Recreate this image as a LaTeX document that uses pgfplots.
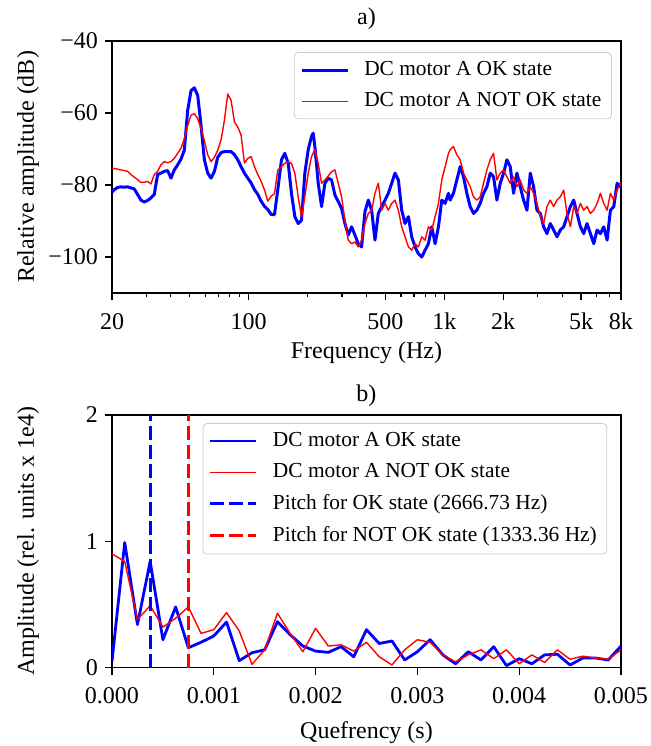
\documentclass[border=0pt]{standalone}
\usepackage{fontspec}
\setmainfont{Liberation Serif}
\usepackage{pgfplots}
\pgfplotsset{compat=1.18}

\definecolor{okblue}{RGB}{0,0,255}
\definecolor{nokred}{RGB}{255,0,0}

\pgfplotsset{
  paper/.style={
    scale only axis,
    width=254.5pt,
    tick align=outside,
    tick pos=left,
    major tick length=3.5pt,
    minor tick length=2pt,
    every tick/.style={black, line width=0.6pt},
    axis line style={black, line width=0.8pt},
    tick label style={font=\fontsize{12}{14}\selectfont},
    xticklabel style={yshift=-3pt},
    label style={font=\fontsize{12}{14}\selectfont},
    title style={font=\fontsize{12}{14}\selectfont, at={(0.5,1)}, anchor=south, yshift=-4pt},
    xlabel style={at={(axis description cs:0.5,0)}, anchor=center, yshift=-30pt},
    ylabel style={at={(axis description cs:0,0.5)}, anchor=center, yshift=42pt},
    legend cell align=left,
    legend style={
      font=\fontsize{10.7}{12.8}\selectfont,
      draw=black!20, rounded corners=2pt, fill=white,
      inner xsep=3pt, inner ysep=2.5pt, row sep=3pt,
      /tikz/every odd column/.append style={column sep=5.5pt},
    },
    legend image code/.code={\draw[##1] (0pt,0pt) -- (23pt,0pt);},
  },
}

\begin{document}
\begin{tikzpicture}
\path[use as bounding box] (0pt,0pt) rectangle (325.5pt,-373pt);

% a) spectrum
\begin{axis}[
  paper,
  at={(56pt,-146.5pt)}, anchor=south west,
  height=126pt,
  xmode=log, xmin=20, xmax=8000,
  ymin=-110, ymax=-40,
  xtick={20,100,500,1000,2000,5000,8000},
  xticklabels={20,100,500,1k,2k,5k,8k},
  minor xtick={30,40,50,60,70,80,90,200,300,400,600,700,800,900,3000,4000,6000,7000},
  ytick={-100,-80,-60,-40},
  yticklabels={−100,−80,−60,−40},
  title={a)},
  xlabel={Frequency (Hz)},
  ylabel={Relative amplitude (dB)},
  legend style={at={(0.982,0.956)}, anchor=north east},
]
\addplot[okblue, line width=1.5pt, line join=round] coordinates {
(20,-82.0) (20.52,-81.3) (21.34,-80.7) (22.2,-80.5) (23.09,-80.6) (24.02,-80.5)
(24.98,-80.8) (25.98,-81.1) (27.02,-82.6) (28.1,-84.2) (29.23,-84.7) (30.4,-84.3)
(31.62,-83.6) (32.89,-82.6) (34.21,-77.1) (35.58,-76.7) (37.01,-76.2) (38.49,-76.0)
(40.04,-78.1) (41.64,-75.8) (43.31,-74.4) (45.05,-72.8) (46.86,-70.3) (48.74,-59.3)
(50.69,-53.8) (52.72,-53.0) (54.84,-55.1) (57.04,-63.4) (59.33,-73.0) (61.71,-76.7)
(64.18,-78.1) (66.76,-76.2) (69.44,-72.3) (72.22,-71.0) (75.12,-70.7) (78.13,-70.7)
(81.27,-70.7) (84.53,-71.6) (87.92,-73.0) (91.4,-74.9) (95.07,-76.7) (98.88,-78.1)
(102.85,-79.4) (106.97,-81.3) (111.26,-82.6) (115.72,-84.5) (120.36,-85.9) (125.19,-86.8)
(130.21,-88.2) (135.4,-88.2) (140.8,-81.3) (147.0,-73.0) (152.9,-71.2) (159.1,-73.9)
(165.4,-82.3) (172.1,-88.8) (179.0,-90.7) (186.1,-89.8) (193.6,-76.7) (201.4,-70.2)
(209.4,-66.5) (213.6,-65.6) (217.8,-69.3) (226.6,-79.5) (235.7,-86.0) (245.1,-79.5)
(254.9,-78.1) (265.2,-78.6) (275.8,-82.8) (286.9,-84.6) (298.3,-86.5) (310.3,-90.7)
(322.7,-93.9) (335.7,-91.6) (349.1,-93.9) (363.1,-96.3) (377.7,-97.2) (392.8,-87.4)
(408.6,-84.2) (425.0,-87.0) (442.0,-95.3) (459.7,-87.9) (478.2,-86.0) (497.4,-84.2)
(517.3,-82.3) (538.1,-79.5) (559.6,-76.7) (582.1,-78.6) (605.5,-87.0) (629.7,-90.7)
(655.0,-88.8) (681.2,-94.4) (708.5,-97.2) (736.9,-99.1) (766.5,-100.0) (797.2,-98.1)
(829.2,-96.3) (862.4,-91.6) (897.0,-96.3) (933.0,-91.6) (970.3,-84.2) (1009.2,-85.1)
(1049.7,-82.3) (1070.7,-84.2) (1113.6,-82.3) (1158.3,-78.6) (1204.8,-74.9) (1253.1,-77.7)
(1303.4,-82.3) (1355.7,-86.0) (1410,-87.9) (1466.3,-87.0) (1525.1,-85.1) (1586.3,-82.3)
(1649.9,-80.5) (1716.1,-76.7) (1784.9,-77.7) (1856.5,-84.2) (1931.0,-79.5) (2008.4,-76.7)
(2088.5,-73.0) (2172.3,-74.9) (2259.4,-82.3) (2350.0,-76.7) (2444.3,-80.5) (2542.3,-84.2)
(2644.3,-87.0) (2750.3,-76.7) (2860.6,-80.5) (2975.3,-87.0) (3094,-87.9) (3218,-91.6)
(3347,-93.5) (3481,-90.7) (3621,-92.5) (3766,-94.4) (3917,-92.5) (4074,-91.6)
(4238,-88.8) (4408,-86.0) (4584,-84.2) (4768,-87.9) (4959,-91.6) (5158,-93.5)
(5365,-90.7) (5580,-93.5) (5804,-96.3) (6037,-92.5) (6279,-93.5) (6531,-91.6)
(6793,-95.3) (7065,-87.0) (7349,-86.0) (7643,-79.5) (7950,-80.5) (8000,-79.5)
};
\addlegendentry{DC motor A OK state}
\addplot[nokred, line width=0.7pt, line join=round] coordinates {
(20,-75.3) (20.52,-75.4) (21.34,-75.6) (22.2,-75.8) (23.09,-76.0) (24.02,-76.2)
(24.98,-77.1) (25.98,-77.8) (27.02,-78.5) (28.1,-79.3) (29.23,-79.2) (30.4,-79.0)
(31.62,-79.7) (32.89,-77.1) (34.21,-76.2) (35.58,-74.4) (37.01,-73.5) (38.49,-73.8)
(40.04,-73.5) (41.64,-72.6) (43.31,-71.2) (45.05,-69.8) (46.86,-67.1) (48.74,-63.4)
(50.69,-60.6) (52.72,-60.2) (54.84,-61.6) (57.04,-64.3) (59.33,-67.7) (61.71,-71.6)
(64.18,-73.5) (66.76,-72.3) (69.44,-70.3) (72.22,-67.5) (75.12,-62.0) (78.13,-54.7)
(81.27,-56.5) (84.53,-62.5) (87.92,-63.9) (91.4,-66.1) (95.07,-73.9) (98.88,-72.6)
(102.85,-72.1) (106.97,-74.9) (111.26,-77.1) (115.72,-79.0) (120.36,-81.3) (125.19,-84.5)
(130.21,-83.1) (135.4,-82.4) (140.8,-75.8) (147.0,-74.9) (152.9,-74.0) (159.1,-73.5)
(165.4,-74.0) (172.1,-76.7) (179.0,-83.3) (186.1,-88.8) (193.6,-83.3) (201.4,-76.7)
(209.4,-72.1) (217.8,-70.2) (226.6,-74.0) (235.7,-79.5) (245.1,-78.6) (254.9,-77.5)
(265.2,-76.3) (275.8,-75.8) (286.9,-79.5) (298.3,-83.3) (310.3,-89.8) (322.7,-95.3)
(335.7,-96.3) (349.1,-95.8) (363.1,-97.2) (377.7,-95.3) (392.8,-90.7) (408.6,-87.9)
(425.0,-87.0) (442.0,-82.3) (459.7,-79.5) (478.2,-87.0) (497.4,-85.1) (517.3,-87.0)
(538.1,-85.1) (559.6,-84.2) (582.1,-87.0) (605.5,-91.6) (629.7,-94.4) (655.0,-97.2)
(681.2,-98.1) (708.5,-96.3) (736.9,-97.2) (766.5,-94.4) (797.2,-95.3) (829.2,-91.6)
(862.4,-92.5) (897.0,-88.8) (933.0,-85.1) (970.3,-78.6) (1009.2,-74.9) (1049.7,-71.2)
(1070.7,-70.2) (1113.6,-69.3) (1158.3,-71.6) (1204.8,-73.0) (1253.1,-76.7) (1303.4,-78.6)
(1355.7,-80.5) (1410,-83.3) (1466.3,-84.2) (1525.1,-83.3) (1586.3,-79.5) (1649.9,-75.8)
(1716.1,-73.0) (1784.9,-71.2) (1856.5,-78.6) (1931.0,-76.7) (2008.4,-75.8) (2088.5,-77.7)
(2172.3,-79.5) (2259.4,-77.7) (2350.0,-80.5) (2444.3,-78.6) (2542.3,-81.4) (2644.3,-82.3)
(2750.3,-80.5) (2860.6,-82.3) (2975.3,-85.1) (3094,-88.8) (3218,-90.7) (3347,-86.0)
(3481,-84.2) (3621,-86.0) (3766,-84.2) (3917,-83.3) (4074,-81.4) (4238,-87.9)
(4408,-91.6) (4584,-86.0) (4768,-87.9) (4959,-85.1) (5158,-87.0) (5365,-86.0)
(5580,-87.9) (5804,-87.0) (6037,-85.1) (6279,-82.3) (6531,-85.1) (6793,-87.0)
(7065,-82.3) (7349,-84.2) (7643,-81.4) (7950,-79.5) (8000,-80.0)
};
\addlegendentry{DC motor A NOT OK state}
\end{axis}

% b) cepstrum
\begin{axis}[
  paper,
  at={(56pt,-333.75pt)}, anchor=south west,
  height=126.25pt,
  xmin=0, xmax=0.005, ymin=0, ymax=2,
  xtick={0,0.001,0.002,0.003,0.004,0.005},
  xticklabels={0.000,0.001,0.002,0.003,0.004,0.005},
  ytick={0,1,2},
  yticklabels={0,1,2},
  scaled x ticks=false,
  title={b)},
  title style={yshift=-1.5pt},
  xlabel={Quefrency (s)},
  xlabel style={yshift=-2.5pt},
  ylabel={Amplitude (rel. units x 1e4)},
  legend style={at={(0.973,0.968)}, anchor=north east},
]
\addplot[okblue, line width=1.4pt, line join=round] coordinates {
(0,0.05) (0.000125,0.99) (0.00025,0.34) (0.000375,0.84) (0.0005,0.22) (0.000625,0.48)
(0.00075,0.157) (0.000875,0.20) (0.001,0.25) (0.001125,0.36) (0.00125,0.054) (0.001375,0.117)
(0.0015,0.14) (0.001625,0.363) (0.00175,0.26) (0.001875,0.17) (0.002,0.13) (0.002125,0.12)
(0.00225,0.165) (0.002375,0.085) (0.0025,0.30) (0.002625,0.19) (0.00275,0.21) (0.002875,0.06)
(0.003,0.125) (0.003125,0.22) (0.00325,0.10) (0.003375,0.03) (0.0035,0.125) (0.003625,0.06)
(0.00375,0.165) (0.003875,0.015) (0.004,0.07) (0.004125,0.03) (0.00425,0.10) (0.004375,0.105)
(0.0045,0.02) (0.004625,0.075) (0.00475,0.075) (0.004875,0.06) (0.005,0.17)
};
\addlegendentry{DC motor A OK state}
\addplot[nokred, line width=0.7pt, line join=round] coordinates {
(0,0.90) (0.000125,0.84) (0.00025,0.38) (0.000375,0.49) (0.0005,0.32) (0.000625,0.39)
(0.00075,0.48) (0.000875,0.27) (0.001,0.30) (0.001125,0.435) (0.00125,0.29) (0.001375,0.025)
(0.0015,0.14) (0.001625,0.43) (0.00175,0.27) (0.001875,0.125) (0.002,0.31) (0.002125,0.17)
(0.00225,0.18) (0.002375,0.13) (0.0025,0.20) (0.002625,0.085) (0.00275,0.02) (0.002875,0.14)
(0.003,0.22) (0.003125,0.20) (0.00325,0.10) (0.003375,0.045) (0.0035,0.10) (0.003625,0.14)
(0.00375,0.07) (0.003875,0.14) (0.004,0.03) (0.004125,0.10) (0.00425,0.04) (0.004375,0.14)
(0.0045,0.065) (0.004625,0.09) (0.00475,0.075) (0.004875,0.065) (0.005,0.14)
};
\addlegendentry{DC motor A NOT OK state}
\addplot[okblue, line width=1.5pt, dash pattern=on 7pt off 2.5pt] coordinates {(0.000375,0) (0.000375,2)};
\addlegendentry{Pitch for OK state (2666.73 Hz)}
\addplot[nokred, line width=1.5pt, dash pattern=on 7pt off 2.5pt] coordinates {(0.00075,0) (0.00075,2)};
\addlegendentry{Pitch for NOT OK state (1333.36 Hz)}
\end{axis}
\end{tikzpicture}
\end{document}
